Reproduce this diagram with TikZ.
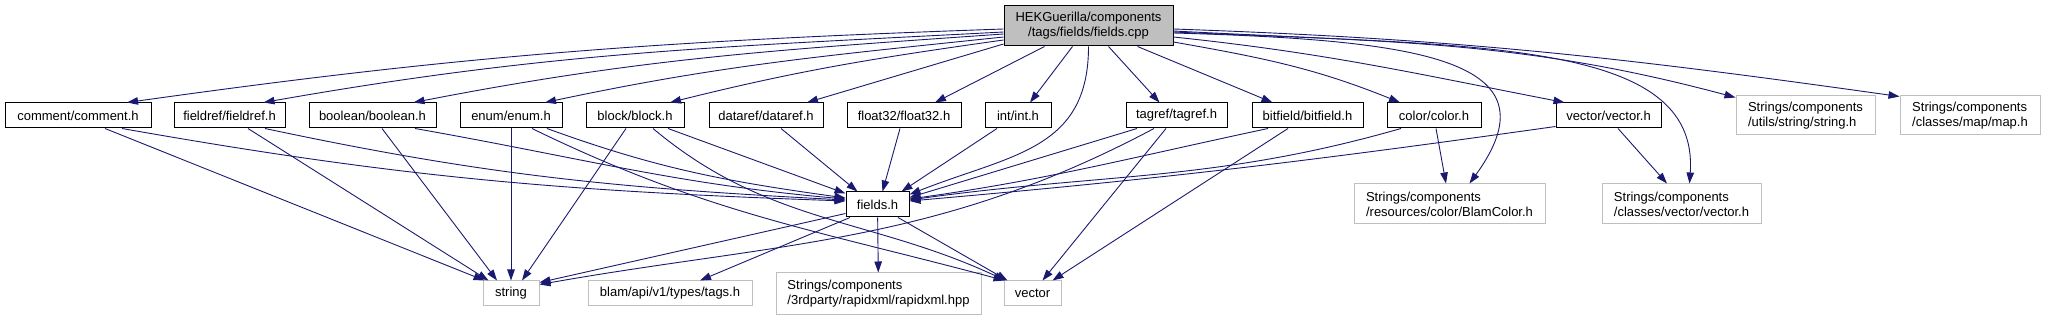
\documentclass[tikz,border=0pt]{standalone}
\usepackage{fontspec}
\setmainfont{Liberation Sans}
\usepackage{xcolor}
\usetikzlibrary{arrows.meta}

\definecolor{edgeblue}{HTML}{191970}
\definecolor{extgray}{HTML}{BFBFBF}

\tikzset{
    hdr/.style={draw=black, line width=1pt, fill=white, inner sep=0pt,
        minimum height=25pt, font=\fontsize{13}{15}\selectfont},
    ext/.style={hdr, draw=extgray},
    dep/.style={edgeblue, line width=0.9pt, -{Triangle[length=11pt,width=7.5pt]}},
}

\begin{document}
\begin{tikzpicture}[x=1pt, y=1pt]
        \useasboundingbox (0, 0) rectangle (2045, -320);

        \node[hdr, fill=extgray, minimum width=169pt, minimum height=40pt, align=center] (root) at (1088.5, -26) {HEKGuerilla/components\\/tags/fields/fields.cpp};

        \node[hdr, minimum width=146pt] (comment) at (78, -115.5) {comment/comment.h};
        \node[hdr, minimum width=111pt] (fieldref) at (229.5, -115.5) {fieldref/fieldref.h};
        \node[hdr, minimum width=127pt] (boolean) at (372.5, -115.5) {boolean/boolean.h};
        \node[hdr, minimum width=102pt] (enum) at (511, -115.5) {enum/enum.h};
        \node[hdr, minimum width=98pt] (block) at (635, -115.5) {block/block.h};
        \node[hdr, minimum width=114pt] (dataref) at (766, -115.5) {dataref/dataref.h};
        \node[hdr, minimum width=114pt] (float32) at (904, -115.5) {float32/float32.h};
        \node[hdr, minimum width=66pt] (int) at (1018, -115.5) {int/int.h};
        \node[hdr, minimum width=101pt] (tagref) at (1176.5, -115.5) {tagref/tagref.h};
        \node[hdr, minimum width=111pt] (bitfield) at (1307.5, -115.5) {bitfield/bitfield.h};
        \node[hdr, minimum width=94pt] (color) at (1434, -115.5) {color/color.h};
        \node[hdr, minimum width=105pt] (vecvec) at (1608.5, -115.5) {vector/vector.h};
        \node[ext, minimum width=139pt, minimum height=39pt, align=left] (strh) at (1805.5, -115.5) {Strings/components\\/utils/string/string.h};
        \node[ext, minimum width=140pt, minimum height=39pt, align=left] (maph) at (1970, -115.5) {Strings/components\\/classes/map/map.h};

        \node[hdr, minimum width=63pt] (fieldsh) at (877.5, -204.5) {fields.h};
        \node[ext, minimum width=191pt, minimum height=40pt, align=left] (blamcolor) at (1449.5, -204) {Strings/components\\/resources/color/BlamColor.h};
        \node[ext, minimum width=159pt, minimum height=40pt, align=left] (classvec) at (1681.5, -204) {Strings/components\\/classes/vector/vector.h};

        \node[ext, minimum width=56pt] (string) at (511, -293.5) {string};
        \node[ext, minimum width=164pt] (tagsh) at (670, -293.5) {blam/api/v1/types/tags.h};
        \node[ext, minimum width=205pt, minimum height=41pt, align=left] (rapidxml) at (878.5, -293.5) {Strings/components\\/3rdparty/rapidxml/rapidxml.hpp};
        \node[ext, minimum width=57pt] (vector) at (1032.5, -293.5) {vector};

        \draw[dep] ([yshift=-3pt]root.west) to[out=182, in=8] ([xshift=49pt]comment.north);
        \draw[dep] ([yshift=-6pt]root.west) to[out=183, in=10] ([xshift=34pt]fieldref.north);
        \draw[dep] ([yshift=-8pt]root.west) to[out=184, in=11] ([xshift=41pt]boolean.north);
        \draw[dep] ([yshift=-11pt]root.west) to[out=186, in=12] ([xshift=34pt]enum.north);
        \draw[dep] ([yshift=-14pt]root.west) to[out=188, in=14] ([xshift=35pt]block.north);
        \draw[dep] ([yshift=-18pt]root.west) -- ([xshift=41pt]dataref.north);
        \draw[dep] ([xshift=41pt]root.south west) -- ([xshift=31pt]float32.north);
        \draw[dep] ([xshift=69pt]root.south west) -- ([xshift=12pt]int.north);
        \draw[dep] (root.south) .. controls +(0, -104) and +(101, 40) .. ([yshift=-3pt]fieldsh.north east);
        \draw[dep] ([xshift=20pt]root.south) -- ([xshift=-17pt]tagref.north);
        \draw[dep] ([xshift=49pt]root.south) -- ([xshift=-35pt]bitfield.north);
        \draw[dep] ([yshift=-16pt]root.east) to[out=-10, in=158] ([xshift=-34pt]color.north);
        \draw[dep] ([yshift=-11pt]root.east) to[out=-6, in=169] ([xshift=-44pt]vecvec.north);
        \draw[dep] ([yshift=-5pt]root.east) to[out=-3, in=165] ([yshift=-2pt]strh.north west);
        \draw[dep] ([yshift=-3pt]root.east) to[out=-2, in=172] ([yshift=-1pt]maph.north west);
        \draw[dep] ([yshift=-7pt]root.east) .. controls +(247, -7) and +(90, 124) .. ([xshift=20pt]blamcolor.north);
        \draw[dep] ([yshift=-6pt]root.east) .. controls +(307, -14) and +(10, 144) .. ([xshift=8pt]classvec.north);

        \draw[dep] ([xshift=44pt]comment.south) to[out=-10, in=178] ([yshift=3.5pt]fieldsh.west);
        \draw[dep] ([xshift=27pt]comment.south) -- ([xshift=2pt]string.north west);
        \draw[dep] ([xshift=35.5pt]fieldref.south) to[out=-12, in=177] ([yshift=4.5pt]fieldsh.west);
        \draw[dep] ([xshift=18.5pt]fieldref.south) -- ([xshift=6pt]string.north west);
        \draw[dep] ([xshift=42.5pt]boolean.south) to[out=-10, in=175] ([yshift=5.5pt]fieldsh.west);
        \draw[dep] ([xshift=9.5pt]boolean.south) -- ([xshift=-14pt]string.north);
        \draw[dep] (enum.south) -- (string.north);
        \draw[dep] ([xshift=36pt]enum.south) to[out=-20, in=172] ([yshift=6.5pt]fieldsh.west);
        \draw[dep] ([xshift=21pt]enum.south) to[out=-26, in=165] ([xshift=1pt]vector.north west);
        \draw[dep] ([xshift=-9pt]block.south) -- ([xshift=11pt]string.north);
        \draw[dep] ([xshift=33pt]block.south) -- ([yshift=-2pt]fieldsh.north west);
        \draw[dep] ([xshift=18pt]block.south) to[out=-40, in=155] ([xshift=2pt]vector.north west);
        \draw[dep] ([xshift=15pt]dataref.south) -- ([xshift=-20pt]fieldsh.north);
        \draw[dep] ([xshift=-4pt]float32.south) -- ([xshift=5pt]fieldsh.north);
        \draw[dep] ([xshift=-21pt]int.south) -- ([xshift=24pt]fieldsh.north);
        \draw[dep] ([xshift=-39.5pt]tagref.south) -- ([yshift=7pt]fieldsh.east);
        \draw[dep] ([xshift=-22.5pt]tagref.south) to[out=208, in=10] ([yshift=-4pt]string.north east);
        \draw[dep] ([xshift=-10.5pt]tagref.south) -- ([xshift=10pt]vector.north);
        \draw[dep] ([xshift=-39.5pt]bitfield.south) to[out=192, in=8] ([yshift=5.5pt]fieldsh.east);
        \draw[dep] ([xshift=-19.5pt]bitfield.south) -- ([xshift=20pt]vector.north);
        \draw[dep] ([xshift=-33pt]color.south) to[out=196, in=8] ([yshift=4.5pt]fieldsh.east);
        \draw[dep] ([xshift=2pt]color.south) -- ([xshift=-3.5pt]blamcolor.north);
        \draw[dep] ([yshift=2pt]vecvec.south west) to[out=188, in=5] ([yshift=3.5pt]fieldsh.east);
        \draw[dep] ([xshift=9.5pt]vecvec.south) -- ([xshift=-14.5pt]classvec.north);

        \draw[dep] ([yshift=4pt]fieldsh.south west) -- ([yshift=-2pt]string.north east);
        \draw[dep] ([xshift=-27.5pt]fieldsh.south) -- ([xshift=30pt]tagsh.north);
        \draw[dep] (fieldsh) -- (rapidxml);
        \draw[dep] ([xshift=20.5pt]fieldsh.south) -- ([xshift=4pt]vector.north west);
    \end{tikzpicture}
\end{document}
